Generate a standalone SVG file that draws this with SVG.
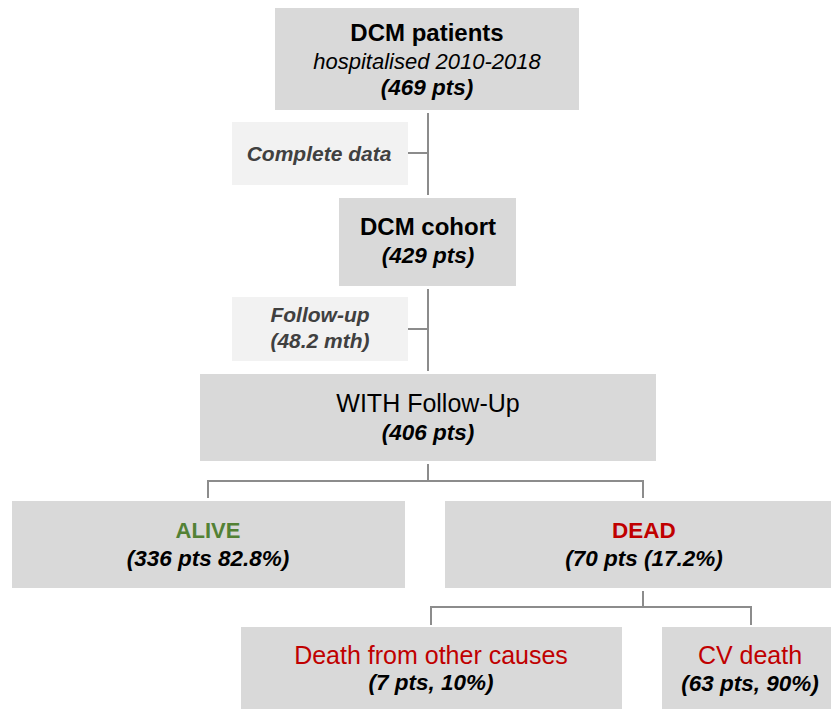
<svg xmlns="http://www.w3.org/2000/svg" width="831" height="709" viewBox="0 0 831 709">
<style>
text{font-family:"Liberation Sans",Arial,sans-serif;text-anchor:middle;fill:#000}
.box{fill:#d9d9d9}
.lbl{fill:#f2f2f2}
.b{font-weight:bold}
.bi{font-weight:bold;font-style:italic}
.it{font-style:italic}
.grey{fill:#404040}
.green{fill:#538135}
.red{fill:#c00000}
#connectors path{fill:none;stroke:#8c8c8c;stroke-width:2}
</style>
<rect width="831" height="709" fill="#fff"/>
<g id="connectors">
<path d="M428 113V195M408 153H428"/>
<path d="M428 289V371M408 329H428"/>
<path d="M428 464V481M208 498V481H643V498"/>
<path d="M643 591V607M431 625V607H751V625"/>
</g>
<g id="n-patients">
<rect class="box" x="275" y="8" width="304" height="102"/>
<text x="427" y="41" class="b" font-size="24">DCM patients</text>
<text x="427" y="69" class="it" font-size="22">hospitalised 2010-2018</text>
<text x="427" y="95" class="bi" font-size="22.5">(469 pts)</text>
</g>
<g id="l-complete">
<rect class="lbl" x="232" y="122" width="176" height="63"/>
<text x="319" y="161" class="bi grey" font-size="21">Complete data</text>
</g>
<g id="n-cohort">
<rect class="box" x="339" y="198" width="177" height="88"/>
<text x="428" y="235" class="b" font-size="24">DCM cohort</text>
<text x="428" y="263" class="bi" font-size="22.5">(429 pts)</text>
</g>
<g id="l-followup">
<rect class="lbl" x="232" y="297" width="176" height="64"/>
<text x="320" y="322" class="bi grey" font-size="21">Follow-up</text>
<text x="320" y="348" class="bi grey" font-size="21">(48.2 mth)</text>
</g>
<g id="n-with">
<rect class="box" x="200" y="374" width="456" height="87"/>
<text x="428" y="412" font-size="25">WITH Follow-Up</text>
<text x="428" y="440" class="bi" font-size="22.5">(406 pts)</text>
</g>
<g id="n-alive">
<rect class="box" x="12" y="501" width="393" height="87"/>
<text x="208" y="538" class="b green" font-size="22">ALIVE</text>
<text x="208" y="566" class="bi" font-size="22.5">(336 pts 82.8%)</text>
</g>
<g id="n-dead">
<rect class="box" x="445" y="501" width="398" height="87"/>
<text x="644" y="538" class="b red" font-size="22.5">DEAD</text>
<text x="644" y="566" class="bi" font-size="22.5">(70 pts (17.2%)</text>
</g>
<g id="n-other">
<rect class="box" x="241" y="627" width="381" height="90"/>
<text x="431" y="664" class="red" font-size="25">Death from other causes</text>
<text x="431" y="690" class="bi" font-size="22.5">(7 pts, 10%)</text>
</g>
<g id="n-cv">
<rect class="box" x="662" y="627" width="178" height="90"/>
<text x="750" y="664" class="red" font-size="25">CV death</text>
<text x="750" y="691" class="bi" font-size="22.5">(63 pts, 90%)</text>
</g>
</svg>
